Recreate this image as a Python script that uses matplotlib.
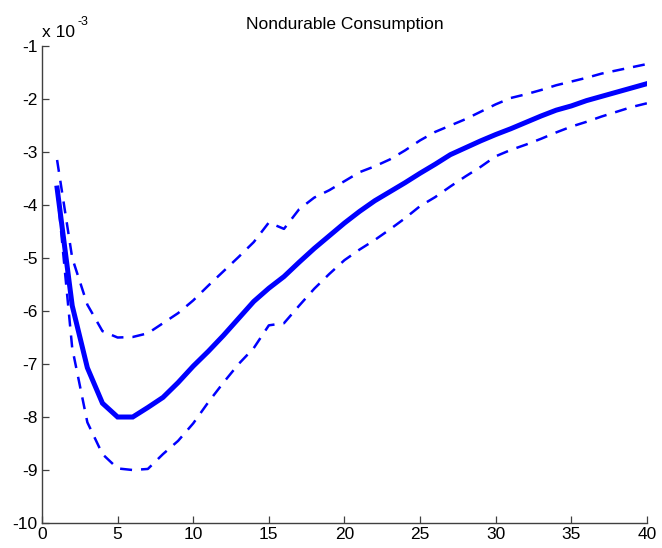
import numpy as np
import matplotlib
matplotlib.use('Agg')
import matplotlib.pyplot as plt
from matplotlib import rcParams

rcParams['font.family'] = ['Liberation Sans', 'DejaVu Sans']

# impulse response, in units of 1e-3
horizon = np.arange(1, 41)
irf_mean = [-3.68, -5.90, -7.07, -7.74, -8.00, -8.00, -7.82, -7.63, -7.35, -7.04,
            -6.76, -6.46, -6.14, -5.82, -5.57, -5.35, -5.08, -4.82, -4.58, -4.34,
            -4.12, -3.92, -3.75, -3.58, -3.40, -3.23, -3.05, -2.92, -2.79, -2.67,
            -2.56, -2.44, -2.32, -2.21, -2.13, -2.03, -1.95, -1.87, -1.79, -1.71]
irf_upper = [-3.15, -5.00, -5.88, -6.38, -6.50, -6.49, -6.42, -6.23, -6.04, -5.80,
             -5.52, -5.25, -4.98, -4.70, -4.33, -4.45, -4.08, -3.86, -3.72, -3.55,
             -3.38, -3.27, -3.14, -2.97, -2.78, -2.62, -2.50, -2.38, -2.24, -2.10,
             -1.98, -1.91, -1.83, -1.74, -1.67, -1.60, -1.52, -1.46, -1.40, -1.34]
irf_lower = [-3.70, -6.70, -8.10, -8.70, -8.97, -9.00, -8.98, -8.70, -8.45, -8.12,
             -7.72, -7.35, -7.00, -6.70, -6.27, -6.23, -5.90, -5.58, -5.30, -5.04,
             -4.84, -4.66, -4.46, -4.25, -4.02, -3.85, -3.65, -3.46, -3.28, -3.08,
             -2.96, -2.86, -2.75, -2.63, -2.52, -2.43, -2.33, -2.24, -2.15, -2.08]

x_ticks = np.arange(0, 41, 5)
y_ticks = np.arange(-10, 0, 1)

fig = plt.figure(figsize=(6.62, 5.48), dpi=100)
ax = fig.add_axes([0.0634, 0.0456, 0.9139, 0.8704])

blue = '#0000ff'
ax.plot(horizon, irf_mean, color=blue, linewidth=3.6, solid_joinstyle='miter')
ax.plot(horizon, irf_upper, color=blue, linewidth=1.8, dashes=(4.8, 3.6))
ax.plot(horizon, irf_lower, color=blue, linewidth=1.8, dashes=(4.8, 3.6))

ax.set_xlim(0, 40)
ax.set_ylim(-10, -1)
ax.set_xticks(x_ticks)
ax.set_yticks(y_ticks)
ax.set_yticklabels([str(v) for v in y_ticks])

axis_col = '#404040'
for side in ['top', 'right']:
    ax.spines[side].set_visible(False)
for side in ['left', 'bottom']:
    ax.spines[side].set_color(axis_col)
    ax.spines[side].set_linewidth(1.0)
ax.tick_params(direction='in', length=5, width=0.9, color=axis_col,
               labelsize=12.5, labelcolor='black', pad=3)

ax.set_title('Nondurable Consumption', fontsize=12.5, pad=12)

# exponent label above the y axis
ax.annotate('x 10', xy=(0, 1), xycoords='axes fraction', xytext=(0, 4),
            textcoords='offset points', fontsize=12.5, ha='left', va='bottom')
ax.annotate('-3', xy=(0, 1), xycoords='axes fraction', xytext=(25.5, 13),
            textcoords='offset points', fontsize=9, ha='left', va='bottom')

fig.savefig('out.png', dpi=100)
